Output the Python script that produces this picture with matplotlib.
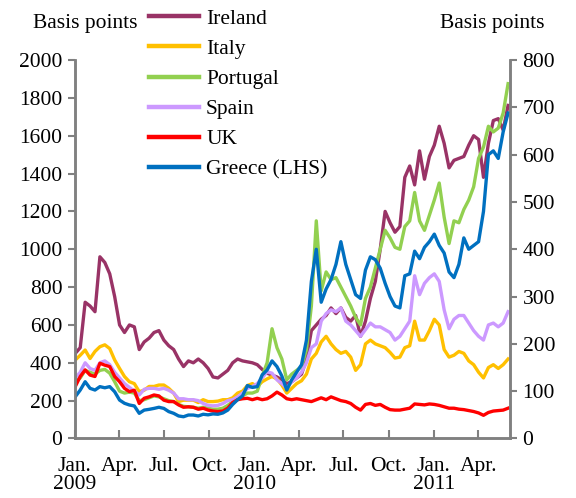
import pandas as pd
import numpy as np
import matplotlib
matplotlib.use("Agg")
import matplotlib.pyplot as plt

#################################################################
# data - 5y CDS spreads, basis points (sampled every 10 days)
#################################################################

dates = pd.date_range("2009-01-02", periods=89, freq="10D")

# right hand scale
ireland = [180, 192, 288, 280, 268, 384, 372, 348, 300, 240,
           224, 240, 236, 188, 204, 212, 224, 228, 208, 196,
           188, 168, 152, 164, 160, 168, 160, 148, 130, 128,
           136, 144, 160, 168, 164, 162, 160, 156, 146, 138,
           134, 130, 124, 116, 120, 128, 136, 168, 228, 240,
           252, 260, 276, 264, 276, 256, 248, 260, 216, 248,
           296, 332, 400, 480, 456, 436, 448, 552, 576, 536,
           608, 548, 596, 620, 660, 624, 572, 588, 592, 596,
           620, 640, 632, 552, 624, 672, 676, 652, 704]

italy = [166, 176, 187, 169, 184, 194, 198, 190, 166, 148,
         131, 120, 116, 99, 102, 110, 110, 113, 113, 106,
         96, 78, 81, 81, 81, 76, 82, 78, 78, 79,
         82, 82, 86, 96, 100, 112, 116, 110, 120, 126,
         131, 126, 113, 96, 106, 116, 122, 136, 168, 180,
         204, 216, 200, 188, 180, 184, 172, 144, 156, 200,
         208, 200, 196, 192, 182, 170, 172, 192, 196, 248,
         208, 208, 228, 252, 240, 188, 172, 176, 184, 180,
         164, 156, 140, 128, 150, 156, 148, 156, 168]

portugal = [120, 128, 144, 140, 136, 144, 146, 138, 120, 100,
            96, 98, 96, 80, 82, 86, 90, 88, 84, 80,
            78, 72, 68, 67, 66, 64, 66, 64, 62, 62,
            64, 70, 78, 86, 90, 96, 96, 100, 132, 160,
            232, 192, 168, 124, 136, 144, 152, 188, 280, 460,
            312, 352, 336, 340, 320, 300, 280, 256, 240, 296,
            320, 360, 400, 440, 424, 404, 400, 448, 460, 520,
            460, 440, 472, 504, 540, 468, 412, 460, 456, 484,
            504, 532, 592, 616, 660, 648, 656, 688, 750]

spain = [128, 140, 160, 148, 144, 160, 164, 156, 140, 128,
         116, 108, 100, 92, 104, 106, 106, 104, 106, 102,
         96, 84, 84, 82, 82, 80, 74, 70, 69, 70,
         74, 80, 82, 88, 96, 106, 110, 116, 128, 141,
         138, 124, 116, 106, 120, 128, 140, 160, 192, 200,
         248, 264, 272, 268, 276, 248, 240, 228, 216, 230,
         244, 236, 236, 230, 224, 208, 216, 232, 248, 344,
         304, 328, 340, 348, 332, 272, 232, 252, 260, 260,
         244, 228, 216, 208, 240, 244, 236, 244, 268]

uk = [110, 131, 145, 134, 131, 159, 155, 152, 131, 120,
      106, 99, 102, 74, 85, 88, 92, 90, 81, 78,
      78, 71, 66, 67, 66, 62, 64, 60, 58, 57,
      58, 64, 76, 82, 84, 85, 82, 85, 82, 84,
      90, 98, 92, 84, 82, 84, 82, 80, 78, 82,
      86, 82, 88, 84, 80, 78, 74, 66, 60, 72,
      74, 70, 72, 66, 61, 60, 60, 62, 64, 73,
      72, 71, 73, 72, 70, 67, 64, 64, 62, 61,
      59, 57, 54, 49, 55, 58, 59, 60, 64]

# left hand scale
greece = [221, 256, 300, 265, 256, 274, 268, 274, 247, 203,
          186, 177, 172, 133, 150, 154, 159, 165, 159, 142,
          133, 119, 115, 124, 124, 119, 128, 125, 130, 128,
          135, 150, 180, 205, 225, 280, 270, 274, 336, 362,
          410, 380, 330, 256, 310, 350, 390, 520, 830, 1000,
          720, 790, 840, 920, 1040, 920, 840, 760, 740, 890,
          960, 945, 900, 820, 750, 700, 690, 860, 870, 990,
          950, 1010, 1040, 1080, 1020, 980, 880, 850, 920, 1060,
          1000, 1020, 1040, 1200, 1500, 1520, 1480, 1620, 1720]

rhsNames = ["Ireland", "Italy", "Portugal", "Spain", "UK"]
rhsSeries = [ireland, italy, portugal, spain, uk]
rhsColors = ["#993366", "#FFC000", "#92D050", "#CC99FF", "#FF0000"]
lhsName = "Greece (LHS)"
lhsColor = "#0070C0"

tickDates = ["2009-01-01", "2009-04-01", "2009-07-01", "2009-10-01",
             "2010-01-01", "2010-04-01", "2010-07-01", "2010-10-01",
             "2011-01-01", "2011-04-01"]
tickLabels = ["Jan.\n2009", "Apr.", "Jul.", "Oct.",
              "Jan.\n2010", "Apr.", "Jul.", "Oct.",
              "Jan.\n2011", "Apr."]

#################################################################
# plot
#################################################################

plt.rcParams['font.family'] = 'serif'
plt.rcParams['font.serif'] = ['Liberation Serif', 'DejaVu Serif']
fs = 15.5
grey = "#808080"

fig = plt.figure(figsize=(5.76, 4.98), dpi=100)
# primary axes holds the RHS series, twin holds Greece; swap tick sides after twinx
ax = fig.add_axes([0.1299, 0.1195, 0.7556, 0.760])
ax2 = ax.twinx()
ax.yaxis.tick_right()
ax2.yaxis.tick_left()

handles = []
for name, vals, col in zip(rhsNames, rhsSeries, rhsColors):
	h, = ax.plot(dates, vals, color=col, lw=2.4, label=name, solid_joinstyle='round')
	handles.append(h)
h, = ax2.plot(dates, greece, color=lhsColor, lw=2.4, label=lhsName, solid_joinstyle='round')
handles.append(h)

ax.set_ylim(0, 800)
ax.set_yticks(np.arange(0, 801, 100))
ax2.set_ylim(0, 2000)
ax2.set_yticks(np.arange(0, 2001, 200))
ax.set_xlim(pd.Timestamp("2009-01-01"), pd.Timestamp("2011-06-05"))
ax.set_xticks([pd.Timestamp(d) for d in tickDates])
ax.set_xticklabels(tickLabels, linespacing=0.95)

for a in (ax, ax2):
	for s in a.spines.values():
		s.set_color(grey)
		s.set_linewidth(1.8)
	a.spines['top'].set_visible(False)
	a.tick_params(colors=grey, labelcolor='black', labelsize=fs, width=1.5)

ax.tick_params(axis='x', direction='in', length=6, pad=13)
ax.tick_params(axis='y', direction='out', length=5, pad=4)
ax2.tick_params(axis='y', direction='out', length=5, pad=4)

fig.text(0.148, 0.952, "Basis points", fontsize=fs, ha='center', va='center')
fig.text(0.855, 0.952, "Basis points", fontsize=fs, ha='center', va='center')

fig.legend(handles=handles, loc='upper left', bbox_to_anchor=(0.255, 0.987),
	frameon=False, fontsize=fs, handlelength=2.3, handletextpad=0.35,
	labelspacing=0.47, borderaxespad=0.0, borderpad=0.1)
for lh in fig.legends[0].get_lines():
	lh.set_linewidth(3.2)

plt.savefig("out.png", dpi=100)
